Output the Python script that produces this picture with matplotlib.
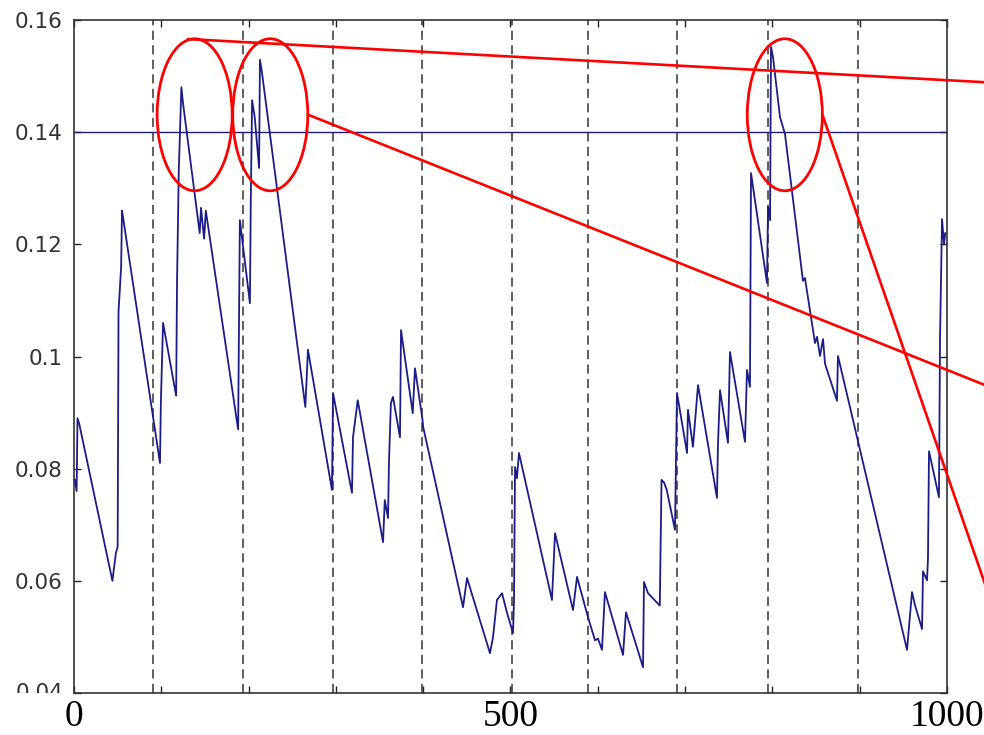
"""
Sawtooth signal with a 0.14 threshold, segment boundaries and marked peaks.
"""

import matplotlib
matplotlib.use("Agg")
import matplotlib.pyplot as plt
from matplotlib.patches import Ellipse
from matplotlib.transforms import Bbox, TransformedBbox

# Signal trace (sample index, value)
SIGNAL_X = [
    1, 3, 4, 6, 44, 48, 50, 51, 54, 55, 56, 98.5,
    99.5, 102, 117, 118, 120, 123, 125, 141, 144, 145.5, 149, 151,
    188, 189, 190, 201.5, 202.5, 204, 207, 212, 213, 215, 265,
    268, 295.5, 296.7, 318.4, 319.6, 325, 354, 356, 359.7, 360.8, 363,
    365.4, 373.4, 374.6, 388, 390.6, 399, 400, 445.6, 450.2, 476.5,
    480, 484.5, 490.3, 496, 502.9, 504, 505.2, 507.4, 509.7, 547.5,
    551, 571.6, 576.2, 588.8, 596.8, 600.2, 604.8, 608.2, 628.9, 632.3,
    651.8, 652.9, 657.5, 671, 673, 676, 679, 688.4, 689.6, 690.7,
    702.2, 703.3, 709, 714.8, 736.5, 737.7, 740, 749.1, 751.4, 768.6,
    770.9, 774.3, 775.5, 793.8, 795, 797.3, 798.4, 800.7, 808.7, 814.4,
    835, 837.3, 848.8, 851.1, 854.5, 858, 860.3, 874, 875.1, 954.2,
    959.9, 963.3, 971.4, 972.5, 977.1, 978.2, 979.4, 990.8, 992, 994.3,
    996.6, 998,
]
SIGNAL_Y = [
    0.078, 0.076, 0.089, 0.088, 0.060, 0.065, 0.066, 0.108, 0.116, 0.126, 0.125, 0.081,
    0.0917, 0.106, 0.093, 0.113, 0.133, 0.148, 0.145, 0.1256, 0.122, 0.1265, 0.121, 0.126,
    0.087, 0.1056, 0.1243, 0.1095, 0.1276, 0.1457, 0.1427, 0.1336, 0.1529, 0.151, 0.091,
    0.1012, 0.0762, 0.0935, 0.0757, 0.0856, 0.0922, 0.0669, 0.0744, 0.0712, 0.0812, 0.0917,
    0.0928, 0.0856, 0.1047, 0.0899, 0.0979, 0.0890, 0.0874, 0.0553, 0.0605, 0.0471,
    0.050, 0.0566, 0.0578, 0.0543, 0.0507, 0.0566, 0.0803, 0.0783, 0.0828, 0.0566,
    0.0685, 0.0548, 0.0607, 0.0535, 0.0494, 0.0497, 0.0477, 0.058, 0.0468, 0.0544,
    0.0446, 0.0598, 0.0578, 0.0556, 0.078, 0.0775, 0.0762, 0.0691, 0.0816, 0.0935,
    0.0828, 0.0905, 0.0839, 0.0949, 0.0748, 0.0846, 0.094, 0.0846, 0.1008, 0.0848,
    0.0976, 0.0946, 0.1327, 0.1131, 0.1267, 0.1243, 0.1552, 0.1534, 0.1427, 0.1397,
    0.1135, 0.114, 0.1024, 0.1035, 0.1001, 0.1031, 0.0987, 0.0921, 0.1001, 0.0477,
    0.058, 0.0557, 0.0514, 0.0617, 0.0601, 0.0639, 0.0831, 0.0749, 0.1031, 0.1245,
    0.120, 0.122,
]

THRESHOLD = 0.14
SEGMENT_BOUNDS = [90, 194, 297, 399, 502, 589, 691, 795, 898]

Y_TICKS = [0.04, 0.06, 0.08, 0.10, 0.12, 0.14, 0.16]
Y_TICK_LABELS = ["0.04", "0.06", "0.08", "0.1", "0.12", "0.14", "0.16"]
X_TICKS = list(range(0, 1001, 100))
X_LABEL_POS = [0, 500, 1000]
X_LABELS = ["0", "500", "1000"]

# Peak markers: ellipse centres (x, y) and callout lines (x0, y0, x1, y1)
MARK_CENTERS = [(138.2, 0.1431), (224.8, 0.1431), (814.2, 0.1431)]
MARK_WIDTH = 86
MARK_HEIGHT = 0.0271
CALLOUTS = [
    (130.7, 0.1566, 1043.6, 0.1489),
    (268.3, 0.1431, 1043.6, 0.0949),
    (857.8, 0.1429, 1043.6, 0.0594),
]


def main():
    fig = plt.figure(figsize=(9.84, 7.35), dpi=100)
    ax = fig.add_axes([0.0752, 0.0571, 0.8872, 0.9157])

    ax.plot(SIGNAL_X, SIGNAL_Y, color="#1c1c88", lw=1.3, zorder=3)
    ax.axhline(THRESHOLD, color="#1c1c70", lw=1.0, zorder=2)
    for xb in SEGMENT_BOUNDS:
        ax.axvline(xb, color="#333333", lw=1.1, ls=(0, (6, 3.5)), zorder=1)

    ax.set_xlim(0, 1000)
    ax.set_ylim(0.04, 0.16)

    # MATLAB-like box with inward ticks on every side
    ax.set_xticks(X_TICKS)
    ax.set_xticklabels([])
    ax.set_yticks(Y_TICKS)
    ax.set_yticklabels([""] + Y_TICK_LABELS[1:])
    ax.tick_params(direction="in", length=5, width=1, top=True, right=True,
                   colors="#222222", pad=8)
    for lab in ax.get_yticklabels():
        lab.set_fontfamily("DejaVu Sans")
        lab.set_fontsize(15.5)
        lab.set_color("#333333")
    for sp in ax.spines.values():
        sp.set_color("#333333")
        sp.set_linewidth(1.2)

    # bottom label is cut off at the frame line
    clip = TransformedBbox(Bbox([[0, 0.0571], [1, 1]]), fig.transFigure)
    t = ax.text(-0.0115, 0.04, Y_TICK_LABELS[0], transform=ax.get_yaxis_transform(),
                ha="right", va="center", fontsize=15.5, color="#333333",
                family="DejaVu Sans")
    t.set_clip_box(clip)
    t.set_clip_on(True)

    # red ellipses and callout lines
    for cx, cy in MARK_CENTERS:
        ax.add_patch(Ellipse((cx, cy), MARK_WIDTH, MARK_HEIGHT, fill=False,
                             edgecolor="red", lw=2.0, clip_on=False, zorder=5))
    for x0, y0, x1, y1 in CALLOUTS:
        ax.plot([x0, x1], [y0, y1], color="red", lw=1.9, clip_on=False, zorder=5)

    # large serif x labels
    for val, lab in zip(X_LABEL_POS, X_LABELS):
        ax.annotate(lab, xy=(val, 0), xycoords=ax.get_xaxis_transform(),
                    xytext=(0, 1), textcoords=("offset points", "figure pixels"),
                    ha="center", va="bottom", fontsize=27,
                    family="Liberation Serif", color="black")

    fig.savefig("out.png", dpi=100, facecolor="white")
    return 0


if __name__ == "__main__":
    main()
